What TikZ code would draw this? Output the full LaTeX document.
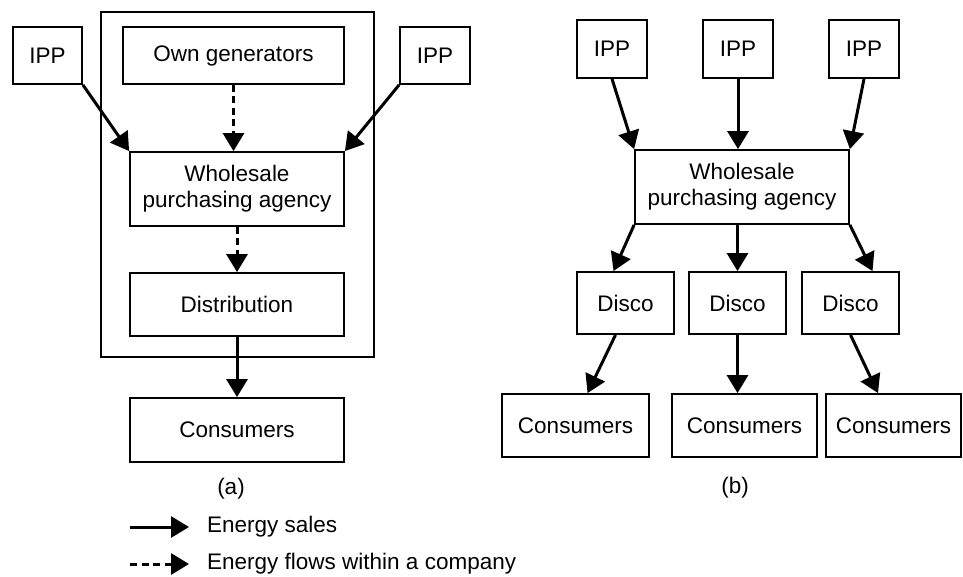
\documentclass[tikz,border=0pt]{standalone}
\usepackage{fontspec}
\setmainfont{Liberation Sans}
\usetikzlibrary{arrows.meta,calc}
\begin{document}
\begin{tikzpicture}[x=1pt,y=-1pt,
  every node/.style={font=\fontsize{22.5}{26}\selectfont},
  box/.style={draw,line width=1.8pt,inner sep=0pt,align=center},
  sale/.style={line width=3pt,-{Triangle[length=18pt,width=21pt]}},
  flow/.style={sale,dash pattern=on 7pt off 4.5pt}]
\useasboundingbox (0,0) rectangle (963,576);
% (a)
\node[box,minimum width=273pt,minimum height=345pt] (frame) at (237.5,184.5) {};
\node[box,minimum width=69pt,minimum height=57pt] (ipL) at (47.5,55.5) {IPP};
\node[box,minimum width=221pt,minimum height=57pt] (own) at (233.5,55.5) {Own generators};
\node[box,minimum width=70pt,minimum height=57pt] (ipR) at (435,55.5) {IPP};
\node[box,minimum width=214pt,minimum height=74pt] (wsL) at (237,189) {Wholesale\\purchasing agency};
\node[box,minimum width=214pt,minimum height=63pt] (dist) at (237,304.5) {Distribution};
\node[box,minimum width=214pt,minimum height=64pt] (consL) at (237,430) {Consumers};
\draw[sale] (ipL.south east) -- (wsL.north west);
\draw[flow] (own.south) -- (own.south |- wsL.north);
\draw[sale] (ipR.south west) -- (wsL.north east);
\draw[flow] (wsL.south) -- (dist.north);
\draw[sale] (dist.south) -- (consL.north);
\node (la) at (231,489) {(a)};
% (b)
\node[box,minimum width=70pt,minimum height=58pt] (ip1) at (612,49) {IPP};
\node[box,minimum width=70pt,minimum height=58pt] (ip2) at (738,49) {IPP};
\node[box,minimum width=70pt,minimum height=58pt] (ip3) at (864,49) {IPP};
\node[box,minimum width=214pt,minimum height=74pt] (wsR) at (742,187) {Wholesale\\purchasing agency};
\node[box,minimum width=97pt,minimum height=62pt] (d1) at (625.5,303) {Disco};
\node[box,minimum width=97pt,minimum height=62pt] (d2) at (737.5,303) {Disco};
\node[box,minimum width=97pt,minimum height=62pt] (d3) at (850.5,303) {Disco};
\node[box,minimum width=147pt,minimum height=63pt] (c1) at (575.5,425.5) {Consumers};
\node[box,minimum width=145pt,minimum height=63pt] (c2) at (744.5,425.5) {Consumers};
\node[box,minimum width=135pt,minimum height=63pt] (c3) at (893.5,425.5) {Consumers};
\draw[sale] (ip1.south) -- (wsR.north west);
\draw[sale] (ip2.south) -- (ip2.south |- wsR.north);
\draw[sale] (ip3.south) -- (wsR.north east);
\draw[sale] (wsR.south west) -- ([xshift=-12pt]d1.north);
\draw[sale] (wsR.south -| d2.north) -- (d2.north);
\draw[sale] (wsR.south east) -- ([xshift=22pt]d3.north);
\draw[sale] ([xshift=-10pt]d1.south) -- ([xshift=12pt]c1.north);
\draw[sale] (d2.south) -- (d2.south |- c2.north);
\draw[sale] (d3.south) -- ([xshift=-15.5pt]c3.north);
\node (lb) at (735,488) {(b)};
% legend
\coordinate (l1a) at (130,527);
\coordinate (l1b) at (189,527);
\coordinate (l2a) at (130,564);
\coordinate (l2b) at (189,564);
\draw[sale] (l1a) -- (l1b);
\draw[flow] (l2a) -- (l2b);
\node[anchor=west,inner sep=0pt] (t1) at (207,527) {Energy sales};
\node[anchor=west,inner sep=0pt] (t2) at (207,564) {Energy flows within a company};
\end{tikzpicture}
\end{document}
